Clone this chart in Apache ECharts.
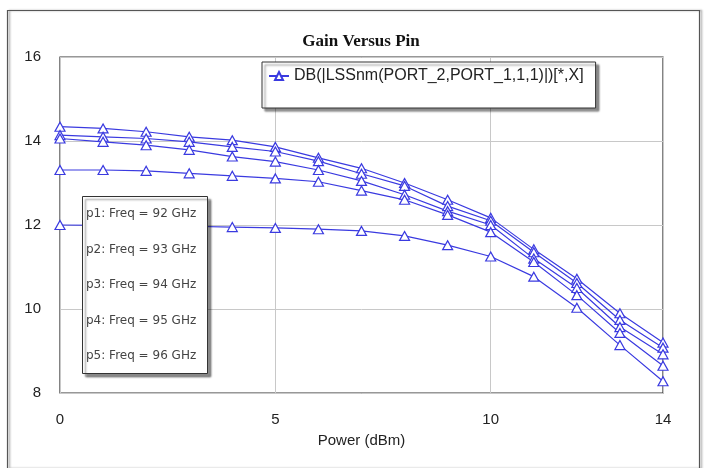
<!DOCTYPE html>
<html>
<head>
<meta charset="utf-8">
<script src="https://cdn.jsdelivr.net/npm/echarts@6/dist/echarts.min.js"></script>
<style>
  html, body { margin: 0; padding: 0; background: #fff; }
  #chart { width: 707px; height: 468px; }
</style>
</head>
<body>
<div id="chart"></div>
<script>
// input power sweep (dBm)
const powerDbm = [0, 1, 2, 3, 4, 5, 6, 7, 8, 9, 10, 11, 12, 13, 14];

// gain traces in dB, one per swept frequency
const gainA = [14.34, 14.30, 14.22, 14.10, 14.02, 13.86, 13.60, 13.35, 13.00, 12.60, 12.17, 11.42, 10.72, 9.90, 9.20];
const gainB = [14.14, 14.10, 14.06, 13.98, 13.86, 13.75, 13.52, 13.22, 12.93, 12.45, 12.10, 11.35, 10.62, 9.74, 9.08];
const gainC = [14.06, 13.98, 13.90, 13.79, 13.63, 13.51, 13.31, 13.05, 12.72, 12.33, 12.00, 11.20, 10.50, 9.57, 8.92];
const gainD = [13.31, 13.31, 13.29, 13.23, 13.17, 13.11, 13.03, 12.82, 12.60, 12.24, 11.83, 11.12, 10.33, 9.43, 8.65];
const gainE = [12.00, 11.99, 11.98, 11.97, 11.95, 11.93, 11.90, 11.86, 11.74, 11.52, 11.25, 10.77, 10.03, 9.14, 8.28];

const traceName = 'DB(|LSSnm(PORT_2,PORT_1,1,1)|)[*,X]';
const markerLabels = [
  'p1: Freq = 92 GHz',
  'p2: Freq = 93 GHz',
  'p3: Freq = 94 GHz',
  'p4: Freq = 95 GHz',
  'p5: Freq = 96 GHz'
];

const blue = '#3a3ae0';
const chart = echarts.init(document.getElementById('chart'));

const makeSeries = (vals) => ({
  name: traceName,
  type: 'line',
  data: powerDbm.map((p, i) => [p, vals[i]]),
  symbol: 'triangle',
  symbolSize: [10, 9],
  showAllSymbol: true,
  lineStyle: { color: blue, width: 1.2 },
  itemStyle: { color: '#ffffff', borderColor: blue, borderWidth: 1.2 },
  emphasis: { disabled: true },
  z: 3
});

const markerTexts = markerLabels.map((t, i) => ({
  type: 'text',
  left: 86,
  top: 208 + i * 35.5,
  style: { text: t, font: '12px "DejaVu Sans", Verdana, sans-serif', fill: '#444' },
  z: 21
}));

chart.setOption({
  animation: false,
  grid: {
    left: 60, right: 44, top: 57, bottom: 75,
    show: true, borderColor: '#333', borderWidth: 1.2
  },
  xAxis: {
    type: 'value', min: 0, max: 14, interval: 5,
    name: 'Power (dBm)', nameLocation: 'middle', nameGap: 40,
    nameTextStyle: { fontSize: 15, color: '#222', fontFamily: 'Arial, "Liberation Sans", sans-serif' },
    axisLine: { show: false }, axisTick: { show: false },
    axisLabel: { fontSize: 15, color: '#222', margin: 19, fontFamily: 'Arial, "Liberation Sans", sans-serif', showMaxLabel: true },
    splitLine: { show: true, lineStyle: { color: '#c8c8c8', width: 1 } }
  },
  yAxis: {
    type: 'value', min: 8, max: 16, interval: 2,
    axisLine: { show: false }, axisTick: { show: false },
    axisLabel: { fontSize: 15, color: '#222', margin: 19, fontFamily: 'Arial, "Liberation Sans", sans-serif' },
    splitLine: { show: true, lineStyle: { color: '#c8c8c8', width: 1 } }
  },
  legend: {
    data: [traceName],
    left: 262, top: 62,
    padding: [6, 12, 24, 6],
    itemWidth: 20, itemHeight: 10, itemGap: 4,
    backgroundColor: '#fff',
    borderColor: '#333', borderWidth: 1,
    shadowColor: 'rgba(0,0,0,0.45)', shadowOffsetX: 3, shadowOffsetY: 3, shadowBlur: 2,
    textStyle: { fontSize: 16, color: '#222', fontFamily: 'Arial, "Liberation Sans", sans-serif' },
    selectedMode: false
  },
  series: [gainA, gainB, gainC, gainD, gainE].map(makeSeries),
  graphic: [
    {
      type: 'rect', left: 5, top: 8,
      shape: { width: 692, height: 458 },
      style: { fill: 'none', stroke: '#555', lineWidth: 1.2, shadowColor: 'rgba(0,0,0,0.4)', shadowOffsetX: 2, shadowBlur: 2 },
      z: 0, silent: true
    },
    {
      type: 'text', x: 361, y: 42,
      style: { text: 'Gain Versus Pin', font: 'bold 17px "Liberation Serif", "Times New Roman", serif', fill: '#111', textAlign: 'center', textVerticalAlign: 'middle' },
      z: 20
    },
    {
      type: 'rect', left: 82, top: 196,
      shape: { width: 125, height: 177 },
      style: { fill: '#fff', stroke: '#333', lineWidth: 1, shadowColor: 'rgba(0,0,0,0.45)', shadowOffsetX: 3, shadowOffsetY: 3, shadowBlur: 2 },
      z: 20
    }
  ].concat(markerTexts)
});
</script>
</body>
</html>
